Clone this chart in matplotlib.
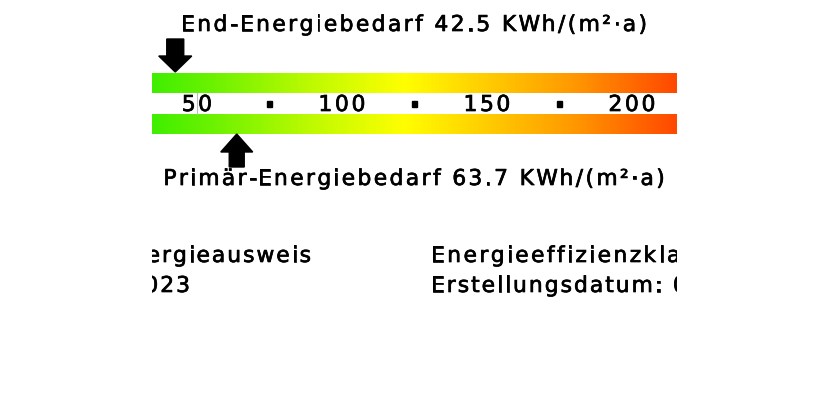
import numpy as np
import matplotlib
matplotlib.use('Agg')
import matplotlib.pyplot as plt
import matplotlib.patheffects as pe
from matplotlib.colors import LinearSegmentedColormap
from matplotlib.patches import Polygon, Rectangle
from matplotlib.transforms import IdentityTransform

# values (kWh/(m²·a))
end_energy = 42.5
primary_energy = 63.7
tick_values = [50, 100, 150, 200]
tick_labels = ['50', '100', '150', '200']
dot_values = [75, 125, 175]
scale_min = 34.5
scale_max = 215.5

end_label = 'End-Energiebedarf 42.5 KWh/(m²·a)'
primary_label = 'Primär-Energiebedarf 63.7 KWh/(m²·a)'
left_lines = ['Energieausweis', '2023']
right_lines = ['Energieeffizienzklasse: B', 'Erstellungsdatum: 01.01.2023']

W, H = 829, 394
PX_PER_UNIT = 2.9
ZERO_PX = 52.0
FONTSIZE = 15.7
SPACING = 2.4   # extra letter spacing in px


def px(x):
    # pixel column -> value on the scale
    return (x - ZERO_PX) / PX_PER_UNIT


plt.rcParams['font.family'] = ['DejaVu Sans']

fig = plt.figure(figsize=(W / 100, H / 100), dpi=100)
ax = fig.add_axes([(ZERO_PX + PX_PER_UNIT * scale_min) / W, 0,
                   PX_PER_UNIT * (scale_max - scale_min) / W, 1])
ax.set_xlim(scale_min, scale_max)
ax.set_ylim(H, 0)
ax.axis('off')
renderer = fig.canvas.get_renderer()
heavier = [pe.withStroke(linewidth=0.5, foreground='black')]


def text_w(s, size):
    t = fig.text(0, 0, s, fontsize=size)
    w = t.get_window_extent(renderer).width
    t.remove()
    return w


def spaced_text(x, y, s, size=FONTSIZE, sp=SPACING, ha='left', clip=False):
    # x, y in data coords of ax; draws s with extra letter spacing
    xd, yd = ax.transData.transform((x, y))
    ref = text_w('I', size)
    offs = [0.0] + [text_w(s[:i] + 'I', size) - ref for i in range(1, len(s))]
    offs = [o + i * sp for i, o in enumerate(offs)]
    total = text_w(s, size) + (len(s) - 1) * sp
    start = xd - {'left': 0, 'center': total / 2, 'right': total}[ha]
    for ch, o in zip(s, offs):
        if ch == ' ':
            continue
        ax.text(start + o, yd, ch, transform=IdentityTransform(), fontsize=size,
                ha='left', va='baseline', color='black', clip_on=clip, zorder=5,
                path_effects=heavier)


cmap = LinearSegmentedColormap.from_list('energy', [
    (0.0, '#40ee00'), (0.12, '#6ef200'), (0.3, '#bdfa00'), (0.48, '#ffff00'),
    (0.62, '#ffd200'), (0.8, '#ff9a00'), (1.0, '#ff4800')])
grad = np.linspace(0, 1, 512).reshape(1, -1)
for top, bottom in [(73, 93), (114, 134)]:
    ax.imshow(grad, cmap=cmap, aspect='auto',
              extent=[scale_min, scale_max, bottom, top], zorder=1)

# scale labels
for v, lab in zip(tick_values, tick_labels):
    spaced_text(v, 111, lab, size=15.8, sp=2.5, ha='center')
ax.plot([50, 50], [93, 114], color='#bbbbbb', lw=0.8, zorder=2)
for v in dot_values:
    ax.add_patch(Rectangle((v - 0.7, 101), 1.4, 6, color='black', zorder=3))

# arrows
hw_head, hw_shaft = 16.5 / PX_PER_UNIT, 8.5 / PX_PER_UNIT
v = end_energy
ax.add_patch(Polygon([(v - hw_shaft, 39), (v + hw_shaft, 39), (v + hw_shaft, 56),
                      (v + hw_head, 56), (v, 72), (v - hw_head, 56), (v - hw_shaft, 56)],
                     closed=True, color='black', zorder=4))
hw_head, hw_shaft = 16 / PX_PER_UNIT, 7.5 / PX_PER_UNIT
v = primary_energy
ax.add_patch(Polygon([(v - hw_shaft, 167), (v + hw_shaft, 167), (v + hw_shaft, 152),
                      (v + hw_head, 152), (v, 134), (v - hw_head, 152), (v - hw_shaft, 152)],
                     closed=True, color='black', zorder=4))

spaced_text(px(414), 31, end_label, ha='center')
spaced_text(px(414), 185, primary_label, ha='center')

# info block, cut off by the widget edges
spaced_text(px(311), 262, left_lines[0], sp=2.0, ha='right', clip=True)
spaced_text(px(190), 292, left_lines[1], sp=2.0, ha='right', clip=True)
spaced_text(px(431), 262, right_lines[0], sp=2.45, ha='left', clip=True)
spaced_text(px(431), 292, right_lines[1], sp=2.0, ha='left', clip=True)

fig.savefig('out.png', dpi=100)
